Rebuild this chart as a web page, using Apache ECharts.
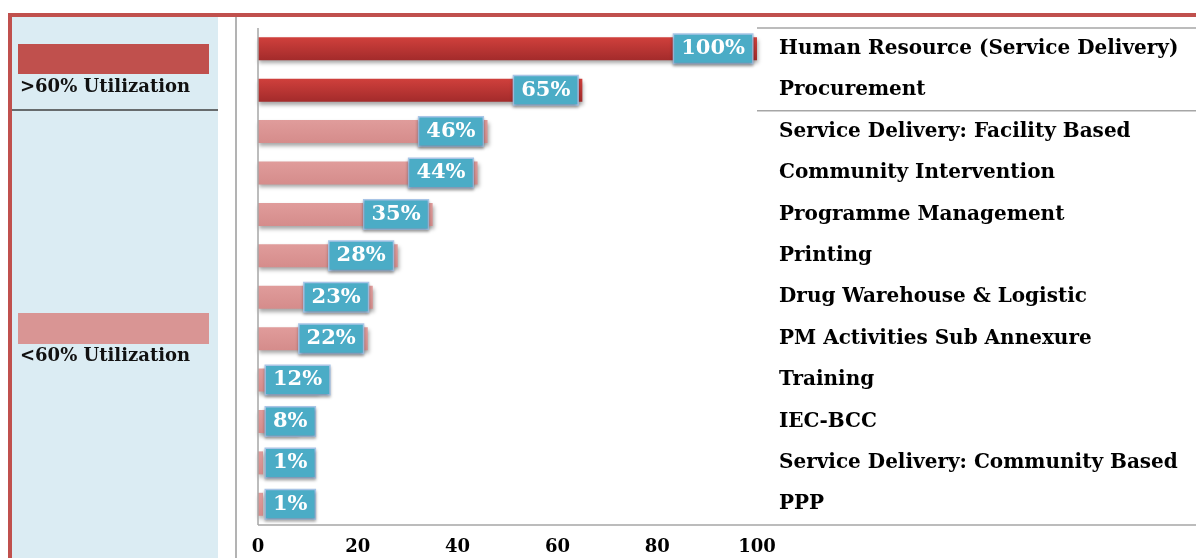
<!DOCTYPE html>
<html>
<head>
<meta charset="utf-8">
<script src="https://cdn.jsdelivr.net/npm/echarts@6/dist/echarts.min.js"></script>
<style>
html,body{margin:0;padding:0;background:#fff;}
#chart{width:1196px;height:558px;}
</style>
</head>
<body>
<div id="chart"></div>
<script>
const categories = [
  "Human Resource (Service Delivery)",
  "Procurement",
  "Service Delivery: Facility Based",
  "Community Intervention",
  "Programme Management",
  "Printing",
  "Drug Warehouse & Logistic",
  "PM Activities Sub Annexure",
  "Training",
  "IEC-BCC",
  "Service Delivery: Community Based",
  "PPP"
];
const utilization = [100, 65, 46, 44, 35, 28, 23, 22, 12, 8, 1, 1];
const xTicks = [0, 20, 40, 60, 80, 100];
const legendLabels = [">60% Utilization", "<60% Utilization"];
const threshold = 60;

const FONT = "DejaVu Serif";
const darkBar = {type:'linear',x:0,y:0,x2:0,y2:1,colorStops:[{offset:0,color:'#d0403c'},{offset:1,color:'#a32b2b'}]};
const lightBar = {type:'linear',x:0,y:0,x2:0,y2:1,colorStops:[{offset:0,color:'#e09c9b'},{offset:1,color:'#d58c8b'}]};

const chart = echarts.init(document.getElementById('chart'), null, {renderer:'canvas'});

const gridLeft = 258, gridRight = 757, gridTop = 28, gridBottom = 525;

const data = utilization.map(v => ({
  value: v,
  itemStyle: { color: v > threshold ? darkBar : lightBar },
  label: v < 15 ? { position: 'insideLeft', distance: 8 } : { position: 'insideRight', distance: 5 }
}));

chart.setOption({
  animation: false,
  backgroundColor: '#ffffff',
  grid: { left: gridLeft, top: gridTop, width: gridRight - gridLeft, height: gridBottom - gridTop },
  xAxis: {
    type: 'value', min: 0, max: 100, interval: 20,
    axisLine: { show: false }, axisTick: { show: false }, splitLine: { show: false },
    axisLabel: {
      margin: 13, color: '#000', fontFamily: FONT, fontWeight: 'bold', fontSize: 18,
      customValues: xTicks
    }
  },
  yAxis: {
    type: 'category', data: categories, inverse: true, position: 'right',
    axisLine: { show: false }, axisTick: { show: false }, splitLine: { show: false },
    axisLabel: { margin: 22, align: 'left', color: '#000', fontFamily: FONT, fontWeight: 'bold', fontSize: 20 }
  },
  series: [{
    type: 'bar',
    data: data,
    barWidth: 23,
    itemStyle: { shadowColor: 'rgba(0,0,0,0.35)', shadowBlur: 4, shadowOffsetY: 3, shadowOffsetX: 1 },
    label: {
      show: true, formatter: '{c}%',
      color: '#fff', fontFamily: FONT, fontWeight: 'bold', fontSize: 21, lineHeight: 20,
      backgroundColor: '#4bacc6', borderColor: '#a9c6e8', borderWidth: 1.5,
      padding: [4, 7, 4, 7],
      shadowColor: 'rgba(0,0,0,0.3)', shadowBlur: 3, shadowOffsetY: 2
    },
    z: 2
  }],
  graphic: [
    { type: 'rect', shape: { x: 12, y: 17, width: 206, height: 541 }, style: { fill: '#dbecf3' }, silent: true, z: 0 },
    { type: 'line', shape: { x1: 8, y1: 15, x2: 1196, y2: 15 }, style: { stroke: '#c0504d', lineWidth: 4 }, z: 1 },
    { type: 'line', shape: { x1: 10, y1: 13, x2: 10, y2: 558 }, style: { stroke: '#c0504d', lineWidth: 4 }, z: 1 },
    { type: 'line', shape: { x1: 236, y1: 17, x2: 236, y2: 558 }, style: { stroke: '#9a9a9a', lineWidth: 1.5 }, z: 1 },
    { type: 'line', shape: { x1: 12, y1: 110, x2: 218, y2: 110 }, style: { stroke: '#404040', lineWidth: 1.5 }, z: 1 },
    { type: 'rect', shape: { x: 18, y: 44, width: 191, height: 30 }, style: { fill: '#c0504d' }, z: 1 },
    { type: 'rect', shape: { x: 18, y: 313, width: 191, height: 31 }, style: { fill: '#d99594' }, z: 1 },
    { type: 'text', x: 20, y: 87, style: { text: legendLabels[0], fill: '#111', font: 'bold 18px "DejaVu Serif"', verticalAlign: 'middle' }, z: 1 },
    { type: 'text', x: 20, y: 356, style: { text: legendLabels[1], fill: '#111', font: 'bold 18px "DejaVu Serif"', verticalAlign: 'middle' }, z: 1 },
    { type: 'line', shape: { x1: 258, y1: 28, x2: 258, y2: 525 }, style: { stroke: '#a6a6a6', lineWidth: 1.5 }, z: 3 },
    { type: 'line', shape: { x1: 258, y1: 525, x2: 1196, y2: 525 }, style: { stroke: '#a6a6a6', lineWidth: 1.5 }, z: 3 },
    { type: 'line', shape: { x1: 757, y1: 28, x2: 1196, y2: 28 }, style: { stroke: '#a6a6a6', lineWidth: 1.5 }, z: 3 },
    { type: 'line', shape: { x1: 757, y1: 110.8, x2: 1196, y2: 110.8 }, style: { stroke: '#a6a6a6', lineWidth: 1.5 }, z: 3 }
  ]
});
</script>
</body>
</html>
